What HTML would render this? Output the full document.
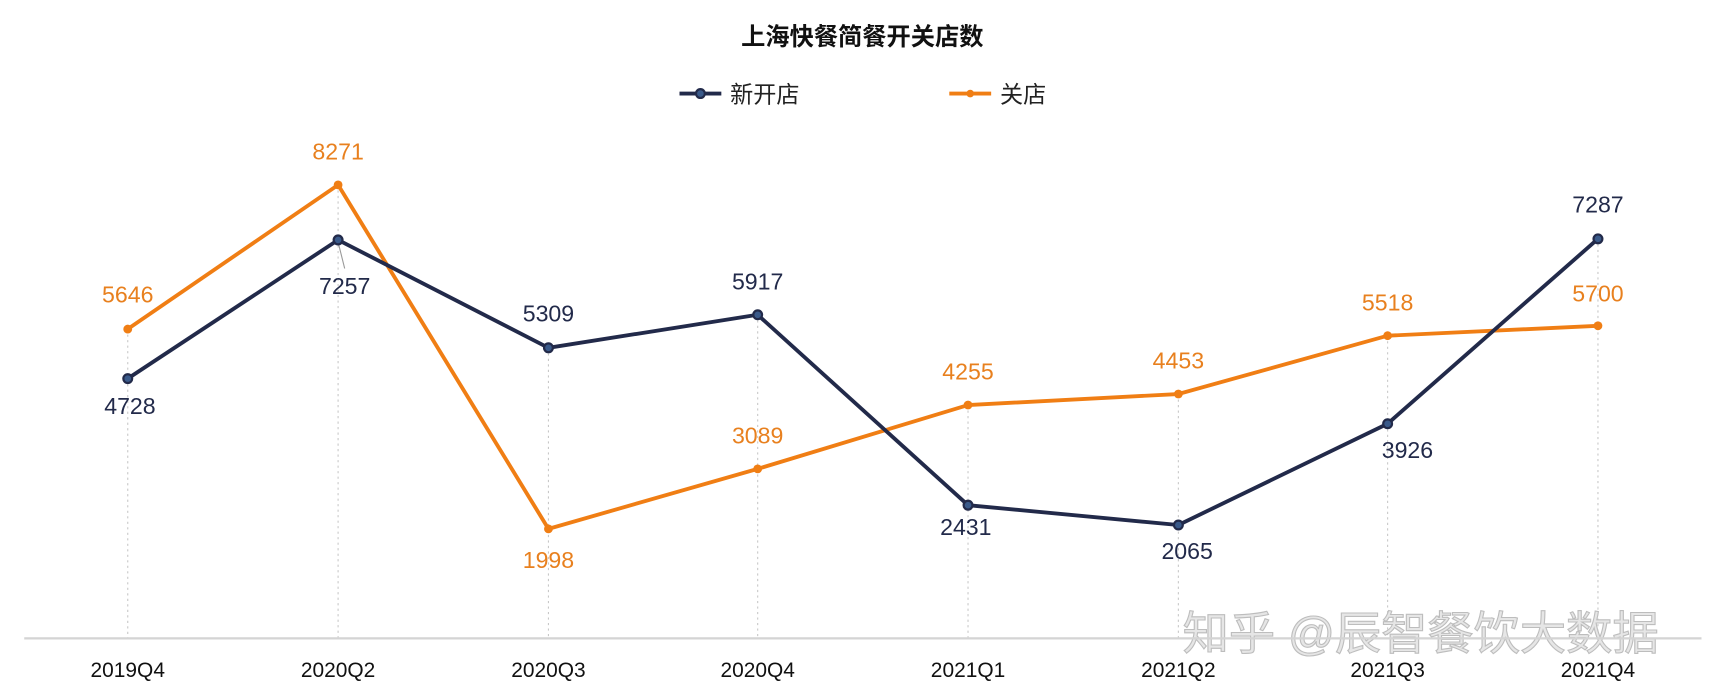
<!DOCTYPE html>
<html><head><meta charset="utf-8"><style>
html,body{margin:0;padding:0;background:#fff}
svg{display:block}
text{font-family:"Liberation Sans","Noto Sans CJK SC",sans-serif}
</style></head><body>
<svg width="1718" height="700" viewBox="0 0 1560 636" preserveAspectRatio="none" xmlns="http://www.w3.org/2000/svg">
<text x="783" y="41" text-anchor="middle" font-size="22" font-weight="bold" fill="#111">上海快餐简餐开关店数</text>
<g>
<line x1="617" y1="85" x2="655" y2="85" stroke="#222a4a" stroke-width="3.5"/>
<circle cx="636" cy="85" r="4" fill="#3a5a8a" stroke="#222a4a" stroke-width="2"/>
<text x="663" y="93" font-size="21" fill="#222">新开店</text>
<line x1="862" y1="85" x2="900" y2="85" stroke="#f07e14" stroke-width="3.5"/>
<circle cx="881" cy="85" r="3.5" fill="#f07e14"/>
<text x="908" y="93" font-size="21" fill="#222">关店</text>
</g>
<g stroke="#c8c8c8" stroke-width="1" stroke-dasharray="2,3">
<line x1="116" y1="299" x2="116" y2="580"/>
<line x1="307" y1="168" x2="307" y2="580"/>
<line x1="498" y1="316" x2="498" y2="580"/>
<line x1="688" y1="286" x2="688" y2="580"/>
<line x1="879" y1="368" x2="879" y2="580"/>
<line x1="1070" y1="358" x2="1070" y2="580"/>
<line x1="1260" y1="305" x2="1260" y2="580"/>
<line x1="1451" y1="217" x2="1451" y2="580"/>
</g>
<text x="1290" y="590" text-anchor="middle" font-size="42" fill="#e6e6e6" stroke="#bdbdbd" stroke-width="1">知乎 @辰智餐饮大数据</text>
<line x1="22" y1="580" x2="1545" y2="580" stroke="#d4d4d4" stroke-width="2"/>
<line x1="307" y1="220" x2="313" y2="244" stroke="#999" stroke-width="1"/>
<polyline fill="none" stroke="#f07e14" stroke-width="3.5" stroke-linejoin="round" points="116,299 307,168 498,480.5 688,426 879,368 1070,358 1260,305 1451,296"/>
<polyline fill="none" stroke="#222a4a" stroke-width="3.5" stroke-linejoin="round" points="116,344 307,218 498,316 688,286 879,459 1070,477 1260,385 1451,217"/>
<g fill="#f07e14"><circle cx="116" cy="299" r="4"/><circle cx="307" cy="168" r="4"/><circle cx="498" cy="480.5" r="4"/><circle cx="688" cy="426" r="4"/><circle cx="879" cy="368" r="4"/><circle cx="1070" cy="358" r="4"/><circle cx="1260" cy="305" r="4"/><circle cx="1451" cy="296" r="4"/></g>
<g fill="#3a5a8a" stroke="#222a4a" stroke-width="2"><circle cx="116" cy="344" r="4"/><circle cx="307" cy="218" r="4"/><circle cx="498" cy="316" r="4"/><circle cx="688" cy="286" r="4"/><circle cx="879" cy="459" r="4"/><circle cx="1070" cy="477" r="4"/><circle cx="1260" cy="385" r="4"/><circle cx="1451" cy="217" r="4"/></g>
<g font-size="21" fill="#222a4a" text-anchor="middle">
<text x="118" y="376">4728</text><text x="313" y="267">7257</text><text x="498" y="292">5309</text><text x="688" y="263">5917</text><text x="877" y="486">2431</text><text x="1078" y="508">2065</text><text x="1278" y="416">3926</text><text x="1451" y="193">7287</text>
</g>
<g font-size="21" fill="#e8801e" text-anchor="middle">
<text x="116" y="275">5646</text><text x="307" y="145">8271</text><text x="498" y="516">1998</text><text x="688" y="403">3089</text><text x="879" y="345">4255</text><text x="1070" y="335">4453</text><text x="1260" y="282">5518</text><text x="1451" y="274">5700</text>
</g>
<g font-size="19" fill="#111" text-anchor="middle">
<text x="116" y="615">2019Q4</text><text x="307" y="615">2020Q2</text><text x="498" y="615">2020Q3</text><text x="688" y="615">2020Q4</text><text x="879" y="615">2021Q1</text><text x="1070" y="615">2021Q2</text><text x="1260" y="615">2021Q3</text><text x="1451" y="615">2021Q4</text>
</g>
</svg>
</body></html>
